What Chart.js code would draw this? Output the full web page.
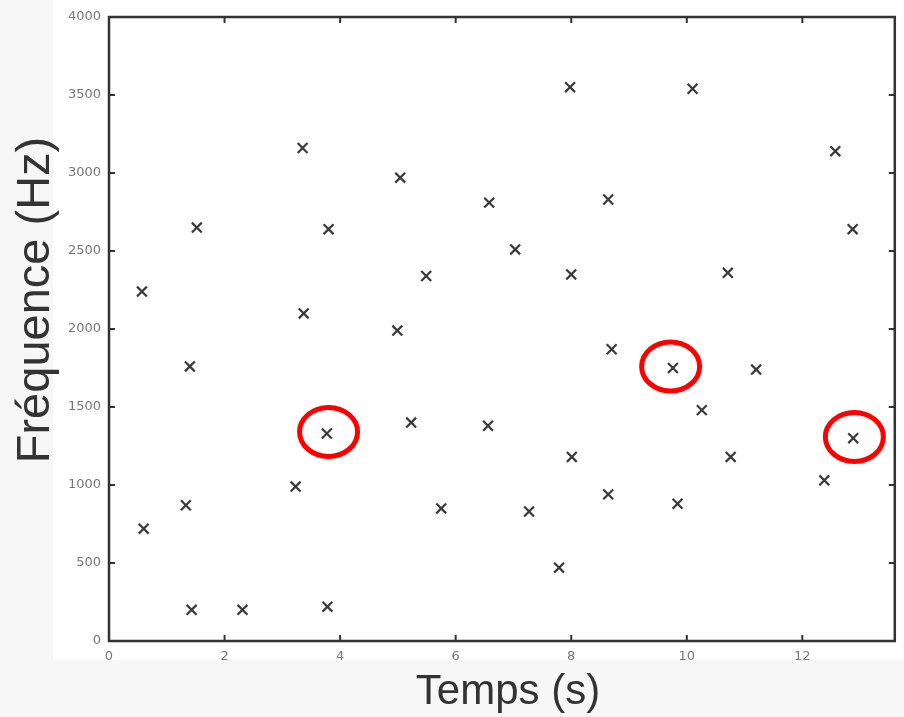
<!DOCTYPE html>
<html>
<head>
<meta charset="utf-8">
<script src="https://cdn.jsdelivr.net/npm/chart.js@4.4.0/dist/chart.umd.min.js"></script>
<style>
  html, body { margin: 0; padding: 0; background: #f7f7f7; }
  #wrap { width: 904px; height: 717px; }
</style>
</head>
<body>
<div id="wrap"><canvas id="myChart" width="904" height="717"></canvas></div>
<script>
// data
const timesS = [0.57, 0.6, 1.52, 1.4, 1.33, 1.43, 2.31, 3.35, 3.37, 3.23,
    3.8, 3.77, 3.78, 5.04, 4.99, 5.49, 5.23, 5.75, 6.58, 6.56,
    7.03, 7.27, 7.98, 8.0, 8.01, 7.79, 8.64, 8.7, 8.64, 9.76,
    9.84, 10.1, 10.26, 10.71, 10.76, 11.2, 12.38, 12.57, 12.87, 12.88];
const freqsHz = [2240, 720, 2650, 1760, 870, 200, 200, 3160, 2100, 990,
    2640, 1330, 220, 2970, 1990, 2340, 1400, 850, 2810, 1380,
    2510, 830, 3550, 2350, 1180, 470, 2830, 1870, 940, 1750,
    880, 3540, 1480, 2360, 1180, 1740, 1030, 3140, 2640, 1300];
// red circles around these points
const circledTimes = [3.8, 9.72, 12.9];
const circledFreqs = [1340, 1760, 1308];

const xTicks = [0, 2, 4, 6, 8, 10, 12];
const yTicks = [0, 500, 1000, 1500, 2000, 2500, 3000, 3500, 4000];

const points = timesS.map((t, i) => ({ x: t, y: freqsHz[i] }));

const backdrop = {
    id: 'backdrop',
    beforeDraw(chart) {
        const c = chart.ctx;
        c.save();
        c.fillStyle = '#f7f7f7';
        c.fillRect(0, 0, chart.width, chart.height);
        c.fillStyle = '#ffffff';
        c.fillRect(53, 0, chart.width - 53, 660);
        c.restore();
    }
};

const frame = {
    id: 'frame',
    afterDatasetsDraw(chart) {
        const c = chart.ctx;
        const a = chart.chartArea;
        const xs = chart.scales.x, ys = chart.scales.y;
        c.save();
        c.strokeStyle = '#333333';
        c.lineWidth = 2.5;
        c.strokeRect(a.left, a.top, a.right - a.left, a.bottom - a.top);
        c.lineWidth = 2;
        c.beginPath();
        xTicks.forEach(v => {
            const px = xs.getPixelForValue(v);
            c.moveTo(px, a.bottom); c.lineTo(px, a.bottom - 6);
            c.moveTo(px, a.top); c.lineTo(px, a.top + 6);
        });
        yTicks.forEach(v => {
            const py = ys.getPixelForValue(v);
            c.moveTo(a.left, py); c.lineTo(a.left + 6, py);
            c.moveTo(a.right, py); c.lineTo(a.right - 6, py);
        });
        c.stroke();

        // red circles
        c.strokeStyle = '#ff0000';
        c.lineWidth = 5;
        circledTimes.forEach((t, i) => {
            c.beginPath();
            c.ellipse(xs.getPixelForValue(t), ys.getPixelForValue(circledFreqs[i]), 29, 24.5, 0, 0, Math.PI * 2);
            c.stroke();
        });

        // axis titles
        c.fillStyle = '#333333';
        c.textAlign = 'center';
        c.textBaseline = 'middle';
        c.font = '42px "Liberation Sans", Arial, sans-serif';
        c.fillText('Temps (s)', 508, 692);
        c.font = '47px "Liberation Sans", Arial, sans-serif';
        c.translate(36, 300);
        c.rotate(-Math.PI / 2);
        c.fillText('Fréquence (Hz)', 0, 0);
        c.restore();
    }
};

const ctx = document.getElementById('myChart');
new Chart(ctx, {
    type: 'scatter',
    data: {
        datasets: [{
            data: points,
            pointStyle: 'crossRot',
            pointRadius: 7,
            pointBorderWidth: 2.2,
            borderColor: '#3a3a3a',
            backgroundColor: '#3a3a3a'
        }]
    },
    options: {
        responsive: false,
        animation: false,
        layout: { padding: { top: 17, right: 2, left: 0, bottom: 0 } },
        plugins: { legend: { display: false }, tooltip: { enabled: false } },
        scales: {
            x: {
                type: 'linear',
                min: 0,
                max: 13.6,
                grid: { display: false },
                border: { display: false },
                ticks: {
                    stepSize: 2,
                    includeBounds: false,
                    padding: 0,
                    color: '#777777',
                    font: { family: '"DejaVu Sans", sans-serif', size: 13 },
                    callback: v => String(v)
                },
                afterFit(s) { s.height = 76; }
            },
            y: {
                min: 0,
                max: 4000,
                grid: { display: false },
                border: { display: false },
                ticks: {
                    stepSize: 500,
                    padding: 0,
                    color: '#777777',
                    font: { family: '"DejaVu Sans", sans-serif', size: 13 },
                    callback: v => String(v)
                },
                afterFit(s) { s.width = 109; }
            }
        }
    },
    plugins: [backdrop, frame]
});
</script>
</body>
</html>
